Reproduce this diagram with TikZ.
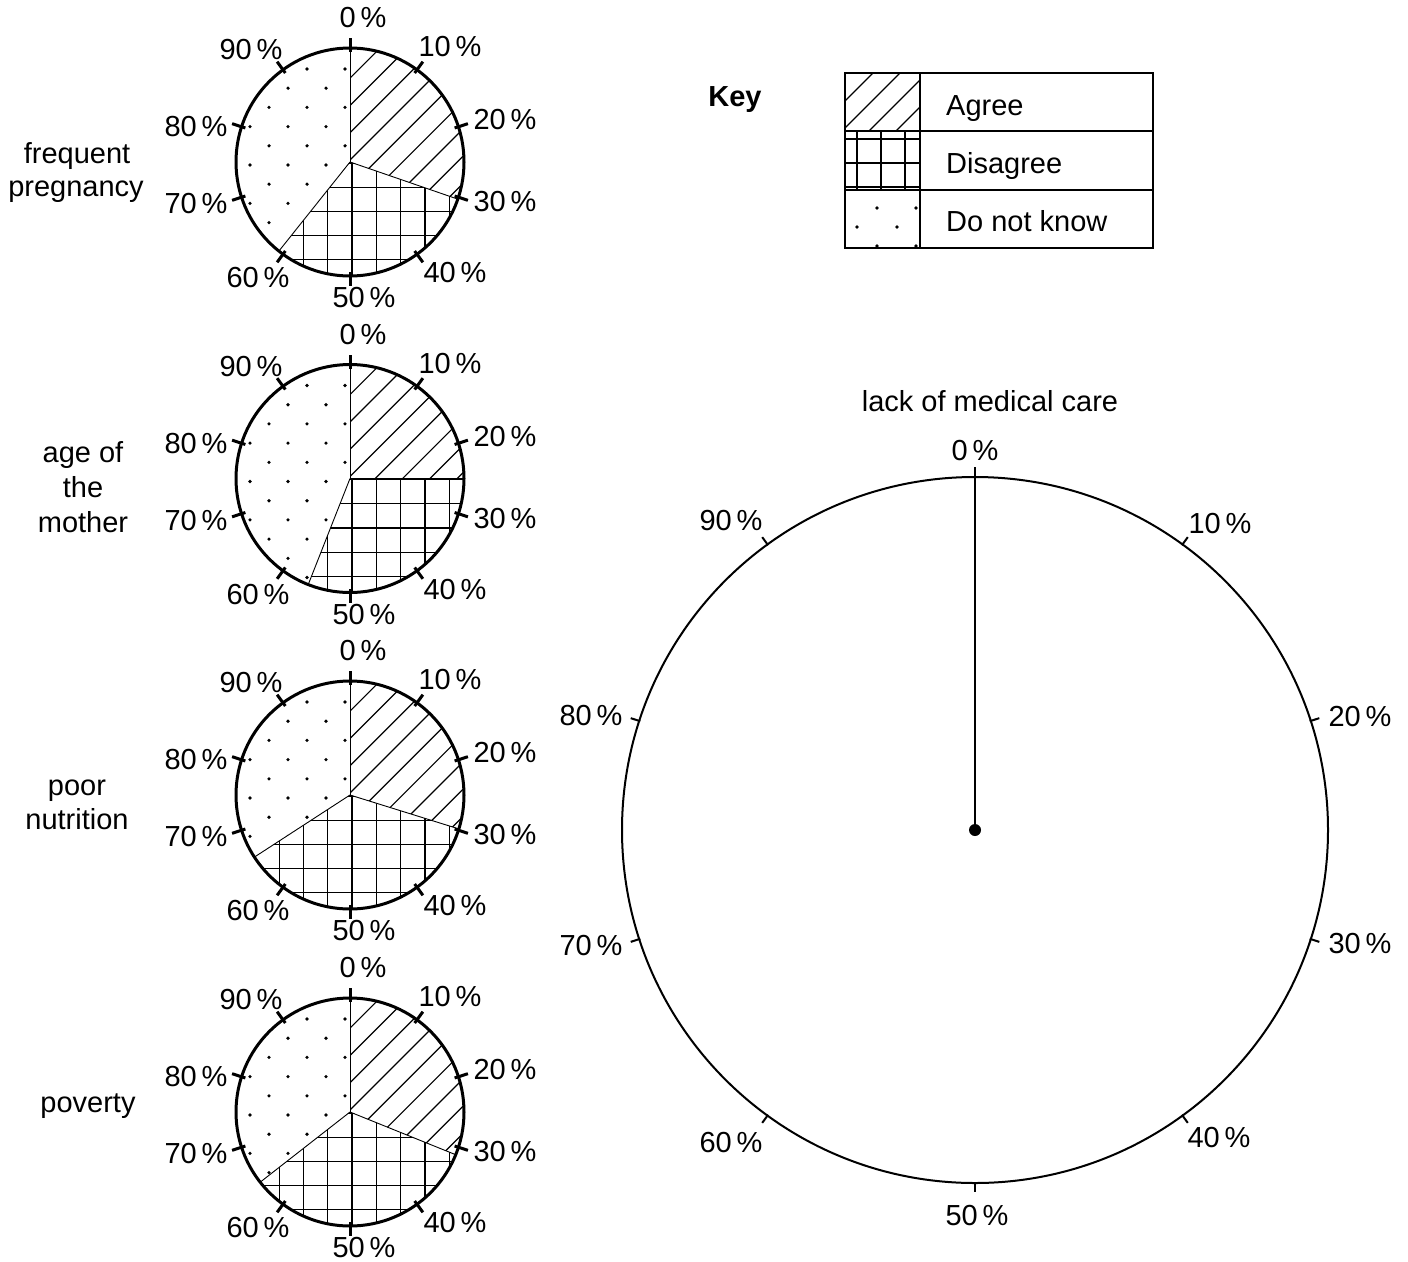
\documentclass[tikz,border=0pt]{standalone}
\usepackage{fontspec}
\setmainfont{Liberation Sans}
\tikzset{
  lbl/.style={font=\fontsize{29}{35}\selectfont, inner sep=0pt},
  hatchline/.style={line width=1.2pt},
  gridline/.style={line width=1.2pt},
  sectorline/.style={line width=0.9pt},
  rimline/.style={line width=3pt},
  tickline/.style={line width=3pt},
  bigtick/.style={line width=2pt},
}
\newcommand{\smallpie}[5]{%
  % #1 cx, #2 cy, #3 end of Agree, #4 end of Disagree, #5 name prefix
  \begin{scope}
    \clip (#1,#2) circle[radius=114pt];
    % Agree: hatching
    \begin{scope}
      \clip (#1,#2) -- ({#1},{#2-260}) -- ({#1+260*sin(#3/2)},{#2-260*cos(#3/2)}) -- ({#1+260*sin(#3)},{#2-260*cos(#3)}) -- cycle;
      \foreach \k in {-10,...,10}
        \draw[hatchline] ({#1-170},{#2-2+27.3*\k+170}) -- ({#1+170},{#2-2+27.3*\k-170});
    \end{scope}
    % Disagree: grid
    \begin{scope}
      \clip (#1,#2) -- ({#1+260*sin(#3)},{#2-260*cos(#3)}) -- ({#1+260*sin((#3+#4)/2)},{#2-260*cos((#3+#4)/2)}) -- ({#1+260*sin(#4)},{#2-260*cos(#4)}) -- cycle;
      \foreach \k in {-6,...,6}{
        \draw[gridline] ({#1+2+24.3*\k},{#2-130}) -- ({#1+2+24.3*\k},{#2+130});
        \draw[gridline] ({#1-130},{#2+1+24.2*\k}) -- ({#1+130},{#2+1+24.2*\k});
      }
    \end{scope}
    % Do not know: dots
    \begin{scope}
      \clip (#1,#2) -- ({#1+260*sin(#4)},{#2-260*cos(#4)}) -- ({#1+260*sin((#4+360)/2)},{#2-260*cos((#4+360)/2)}) -- ({#1},{#2-260}) -- cycle;
      \foreach \b in {-6,-4,...,6}
        \foreach \j in {-4,...,4}
          \fill ({#1-24+38*\j},{#2+3+19.2*\b}) circle[radius=1.8pt];
      \foreach \b in {-5,-3,...,5}
        \foreach \j in {-4,...,4}
          \fill ({#1-5+38*\j},{#2+3+19.2*\b}) circle[radius=1.8pt];
    \end{scope}
  \end{scope}
  \foreach \a in {0,#3,#4}
    \draw[sectorline] (#1,#2) -- ({#1+114*sin(\a)},{#2-114*cos(\a)});
  \draw[rimline] (#1,#2) circle[radius=114pt];
  \foreach \a in {0,36,...,324}
    \draw[tickline] ({#1+110*sin(\a)},{#2-110*cos(\a)}) -- ({#1+124*sin(\a)},{#2-124*cos(\a)});
  \node[lbl] (#5p0) at ({#1+13},{#2-144}) {0\,\%};
  \node[lbl] (#5p10) at ({#1+100},{#2-115}) {10\,\%};
  \node[lbl] (#5p20) at ({#1+155},{#2-42}) {20\,\%};
  \node[lbl] (#5p30) at ({#1+155},{#2+40}) {30\,\%};
  \node[lbl] (#5p40) at ({#1+105},{#2+111}) {40\,\%};
  \node[lbl] (#5p50) at ({#1+14},{#2+136}) {50\,\%};
  \node[lbl] (#5p60) at ({#1-92},{#2+116}) {60\,\%};
  \node[lbl] (#5p70) at ({#1-154},{#2+42}) {70\,\%};
  \node[lbl] (#5p80) at ({#1-154},{#2-35}) {80\,\%};
  \node[lbl] (#5p90) at ({#1-99},{#2-112}) {90\,\%};
}
\begin{document}
\begin{tikzpicture}[x=1pt,y=-1pt]
\useasboundingbox (0,0) rectangle (1408,1261);
\fill[white] (0,0) rectangle (1408,1261);

% small pies
\smallpie{350}{162}{109}{218.6}{pa}
\smallpie{350}{478.5}{90}{201.5}{pb}
\smallpie{350}{795}{107.3}{237}{pc}
\smallpie{350}{1112}{112}{232}{pd}

% left labels
\node[lbl, anchor=base] (fa) at (77,163) {frequent};
\node[lbl, anchor=base] (fb) at (76,196) {pregnancy};
\node[lbl, anchor=base] (ma) at (83,462) {age of};
\node[lbl, anchor=base] (mb) at (83,497) {the};
\node[lbl, anchor=base] (mc) at (83,532) {mother};
\node[lbl, anchor=base] (na) at (77,795) {poor};
\node[lbl, anchor=base] (nb) at (77,829) {nutrition};
\node[lbl, anchor=base] (pv) at (88,1112) {poverty};

% key
\node[lbl, font=\fontsize{29}{35}\selectfont\bfseries] (keyt) at (735,100) {Key};
\begin{scope}
  \clip (845,73) rectangle (920,131);
  \foreach \k in {-3,...,3}
    \draw[hatchline] ({946+27*\k-73+60},{73-60}) -- ({946+27*\k-131-60},{131+60});
\end{scope}
\begin{scope}
  \clip (845,131) rectangle (920,190);
  \foreach \xx in {857,881,905} \draw[gridline] (\xx,131) -- (\xx,190);
  \foreach \yy in {139,163,187} \draw[gridline] (845,\yy) -- (920,\yy);
\end{scope}
\foreach \px/\py in {877/208,916/208,857/227,897/227,877/246,916/246}
  \fill (\px,\py) circle[radius=1.8pt];
\draw[line width=2.5pt] (845,73) rectangle (1153,248);
\draw[line width=2.5pt] (845,131) -- (1153,131);
\draw[line width=2.5pt] (845,190) -- (1153,190);
\draw[line width=2.5pt] (920,73) -- (920,248);
\node[lbl, anchor=base west] (ka) at (946,115) {Agree};
\node[lbl, anchor=base west] (kb) at (946,173) {Disagree};
\node[lbl, anchor=base west] (kc) at (946,231) {Do not know};

% big pie
\node[lbl] (bigt) at (990,401) {lack of medical care};
\coordinate (bc) at (975,830);
\coordinate (btop) at (975,467);
\draw[line width=2pt] (bc) circle[radius=353pt];
\foreach \a in {36,72,...,324}
  \draw[bigtick] ({975+352*sin(\a)},{830-352*cos(\a)}) -- ({975+362*sin(\a)},{830-362*cos(\a)});
\draw[line width=2pt] (bc) -- (btop);
\fill (bc) circle[radius=6pt];
\node[lbl] (b0) at (975,451) {0\,\%};
\node[lbl] (b10) at (1220,524) {10\,\%};
\node[lbl] (b20) at (1360,717) {20\,\%};
\node[lbl] (b30) at (1360,944) {30\,\%};
\node[lbl] (b40) at (1219,1138) {40\,\%};
\node[lbl] (b50) at (977,1216) {50\,\%};
\node[lbl] (b60) at (731,1143) {60\,\%};
\node[lbl] (b70) at (591,946) {70\,\%};
\node[lbl] (b80) at (591,716) {80\,\%};
\node[lbl] (b90) at (731,521) {90\,\%};
\end{tikzpicture}
\end{document}
